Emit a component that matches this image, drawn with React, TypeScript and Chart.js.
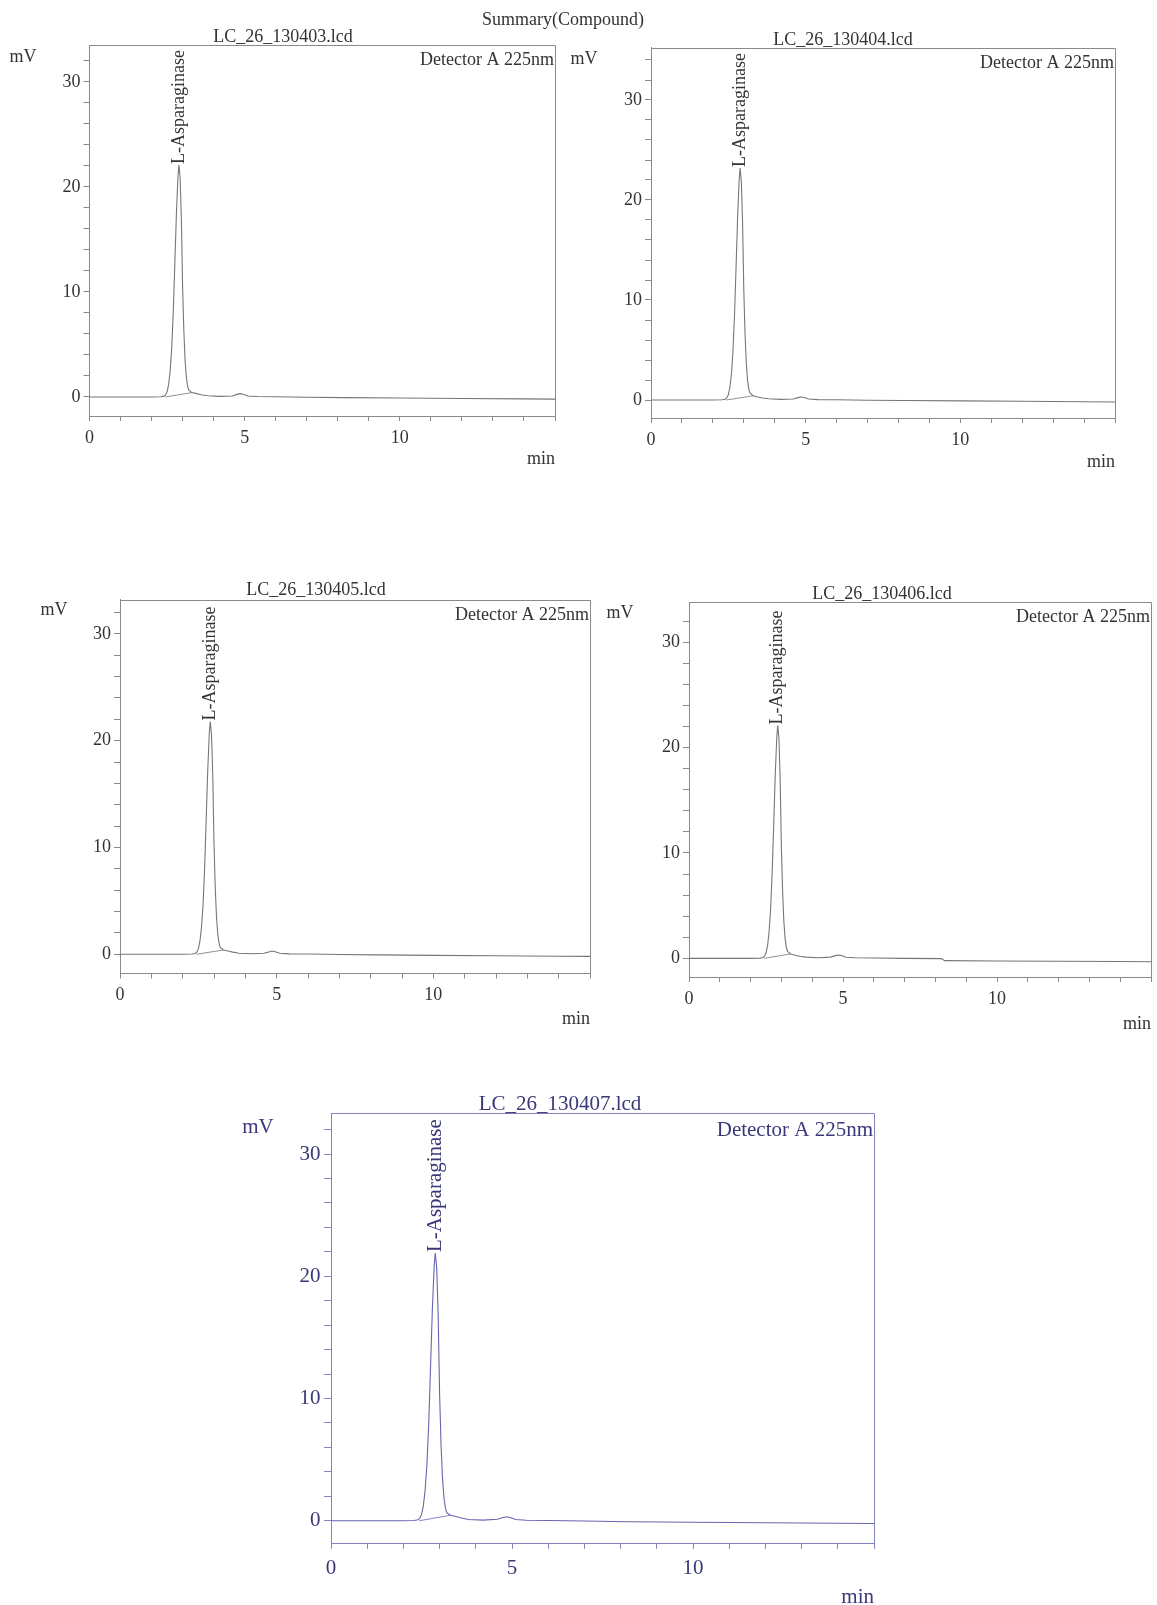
import React, { useEffect, useRef } from "react";
import { Chart, registerables } from "chart.js";

Chart.register(...registerables);

// ---------------- data ----------------
const SUMMARY_TITLE = "Summary(Compound)";
const FILE_NAMES = [
  "LC_26_130403.lcd",
  "LC_26_130404.lcd",
  "LC_26_130405.lcd",
  "LC_26_130406.lcd",
  "LC_26_130407.lcd",
];
const DETECTOR_LABEL = "Detector A 225nm";
const PEAK_NAME = "L-Asparaginase";
const Y_UNIT = "mV";
const X_UNIT = "min";

// retention time (min)
const TIME_MIN = [
  0, 1, 2, 2.3, 2.4, 2.45, 2.5, 2.55, 2.6, 2.65, 2.7, 2.75, 2.8, 2.85, 2.88,
  2.92, 2.96, 3.0, 3.04, 3.08, 3.12, 3.16, 3.2, 3.3, 3.45, 3.6, 3.8, 4.2, 4.6,
  4.75, 4.85, 4.95, 5.1, 5.4, 6, 7, 8.2, 8.3, 10, 12, 14, 15,
];

// detector signal (mV)
const SIGNAL_130403 = [
  0, 0, 0, 0.02, 0.08, 0.2, 0.5, 1.2, 2.5, 4.7, 8.1, 12.7, 17.4, 21.0, 22.1,
  20.9, 17.0, 10.5, 6.3, 3.5, 1.9, 1.05, 0.65, 0.42, 0.32, 0.22, 0.12, 0.06, 0.1,
  0.25, 0.32, 0.26, 0.1, 0.04, 0.02, -0.02, -0.06, -0.06, -0.1, -0.14, -0.18, -0.2,
];
const SIGNAL_130404 = [
  0, 0, 0, 0.02, 0.08, 0.2, 0.52, 1.25, 2.6, 4.9, 8.5, 13.3, 18.3, 22.0, 23.2,
  21.9, 17.8, 11.0, 6.6, 3.7, 2.0, 1.1, 0.7, 0.42, 0.3, 0.2, 0.12, 0.06, 0.1,
  0.24, 0.3, 0.25, 0.1, 0.04, 0.02, -0.02, -0.05, -0.05, -0.09, -0.13, -0.17, -0.2,
];
const SIGNAL_130405 = [
  0, 0, 0, 0.02, 0.08, 0.2, 0.5, 1.2, 2.5, 4.6, 8.0, 12.5, 17.2, 20.7, 21.8,
  20.6, 16.8, 10.4, 6.2, 3.5, 1.9, 1.05, 0.65, 0.4, 0.3, 0.2, 0.1, 0.05, 0.1,
  0.22, 0.3, 0.24, 0.1, 0.04, 0.02, -0.02, -0.06, -0.06, -0.1, -0.14, -0.18, -0.2,
];
const SIGNAL_130406 = [
  0, 0, 0, 0.02, 0.08, 0.2, 0.5, 1.2, 2.5, 4.7, 8.1, 12.7, 17.4, 21.0, 22.1,
  20.9, 17.0, 10.5, 6.3, 3.5, 1.9, 1.05, 0.65, 0.42, 0.3, 0.2, 0.12, 0.06, 0.12,
  0.26, 0.32, 0.26, 0.1, 0.05, 0.03, 0.0, -0.03, -0.22, -0.25, -0.28, -0.3, -0.32,
];
const SIGNAL_130407 = [
  0, 0, 0, 0.02, 0.08, 0.2, 0.5, 1.2, 2.5, 4.6, 8.0, 12.6, 17.3, 20.8, 21.9,
  20.7, 16.9, 10.4, 6.2, 3.5, 1.9, 1.05, 0.65, 0.45, 0.35, 0.22, 0.1, 0.05, 0.12,
  0.27, 0.33, 0.27, 0.1, 0.04, 0.02, -0.02, -0.08, -0.08, -0.12, -0.16, -0.2, -0.22,
];

// integration baseline drawn under the peak (start / end)
const PEAK_BASE_TIME = [2.44, 3.3];
const PEAK_BASE_130403 = [0.0, 0.42];
const PEAK_BASE_130404 = [0.0, 0.42];
const PEAK_BASE_130405 = [0.0, 0.4];
const PEAK_BASE_130406 = [0.0, 0.42];
const PEAK_BASE_130407 = [0.0, 0.45];

// axes
const X_TICKS = [0, 1, 2, 3, 4, 5, 6, 7, 8, 9, 10, 11, 12, 13, 14, 15];
const X_TICK_LABELS = [0, 5, 10];
const Y_TICKS = [0, 2, 4, 6, 8, 10, 12, 14, 16, 18, 20, 22, 24, 26, 28, 30, 32, 34];
const Y_TICK_LABELS = [0, 10, 20, 30];

// ---------------- layout / style ----------------
const PAGE_W = 1157;
const PAGE_H = 1605;
const FONT_FAMILY = '"Liberation Serif", "Times New Roman", serif';

const GRAY = { text: "#333333", axis: "#8a8a8a", trace: "#767676" };
const BLUE = { text: "#3a3878", axis: "#8383c0", trace: "#6666b0" };

type PanelCfg = {
  file: string;
  signal: number[];
  base: number[];
  area: { left: number; right: number; top: number; bottom: number };
  yMin: number;
  yMax: number;
  k: number;
  titleX: number;
  titleY: number;
  unitX: number;
  unitY: number;
  minY: number;
  colors: { text: string; axis: string; trace: string };
  summary?: boolean;
};

const PANELS: PanelCfg[] = [
  {
    file: FILE_NAMES[0], signal: SIGNAL_130403, base: PEAK_BASE_130403,
    area: { left: 89.5, right: 555, top: 45, bottom: 416 },
    yMin: -1.81, yMax: 33.52, k: 1,
    titleX: 283, titleY: 42, unitX: 23, unitY: 57, minY: 464,
    colors: GRAY, summary: true,
  },
  {
    file: FILE_NAMES[1], signal: SIGNAL_130404, base: PEAK_BASE_130404,
    area: { left: 651, right: 1115, top: 47.5, bottom: 418 },
    yMin: -1.8, yMax: 35.25, k: 1,
    titleX: 843, titleY: 45, unitX: 584, unitY: 59, minY: 467,
    colors: GRAY,
  },
  {
    file: FILE_NAMES[2], signal: SIGNAL_130405, base: PEAK_BASE_130405,
    area: { left: 120, right: 590, top: 599.5, bottom: 973.5 },
    yMin: -1.8, yMax: 33.22, k: 1,
    titleX: 316, titleY: 595, unitX: 54, unitY: 610, minY: 1024,
    colors: GRAY,
  },
  {
    file: FILE_NAMES[3], signal: SIGNAL_130406, base: PEAK_BASE_130406,
    area: { left: 689, right: 1155, top: 602, bottom: 977 },
    yMin: -1.77, yMax: 33.81, k: 1,
    titleX: 882, titleY: 599, unitX: 620, unitY: 613, minY: 1029,
    colors: GRAY,
  },
  {
    file: FILE_NAMES[4], signal: SIGNAL_130407, base: PEAK_BASE_130407,
    area: { left: 331, right: 874, top: 1113, bottom: 1543 },
    yMin: -1.82, yMax: 33.36, k: 1.165,
    titleX: 560, titleY: 1110, unitX: 258, unitY: 1127, minY: 1603,
    colors: BLUE,
  },
];

const Y_AXIS_W = 70;
const X_AXIS_H = 40;

function makeTextPlugin(cfg: PanelCfg) {
  return {
    id: "panelText",
    afterDraw(chart: any) {
      const { ctx, chartArea: a, scales } = chart;
      const k = cfg.k;
      const fs = Math.round(18 * k);
      ctx.save();
      // frame (top and right)
      ctx.strokeStyle = cfg.colors.axis;
      ctx.lineWidth = 1;
      ctx.beginPath();
      ctx.moveTo(a.left, Math.round(a.top) + 0.5);
      ctx.lineTo(Math.round(a.right) + 0.5, Math.round(a.top) + 0.5);
      ctx.lineTo(Math.round(a.right) + 0.5, a.bottom);
      ctx.stroke();

      ctx.fillStyle = cfg.colors.text;
      ctx.font = `${fs}px ${FONT_FAMILY}`;

      // file name title
      ctx.textAlign = "center";
      ctx.textBaseline = "alphabetic";
      ctx.fillText(cfg.file, cfg.titleX, cfg.titleY);

      // detector label
      ctx.textAlign = "right";
      ctx.fillText(DETECTOR_LABEL, a.right - 1, a.top + 20 * k);

      // x unit
      ctx.fillText(X_UNIT, a.right, cfg.minY);

      // y unit
      ctx.textAlign = "center";
      ctx.textBaseline = "middle";
      ctx.fillText(Y_UNIT, cfg.unitX, cfg.unitY);

      // summary heading
      if (cfg.summary) {
        ctx.textBaseline = "alphabetic";
        ctx.fillText(SUMMARY_TITLE, 563, 25);
      }

      // peak label at apex
      let iMax = 0;
      cfg.signal.forEach((v, i) => {
        if (v > cfg.signal[iMax]) iMax = i;
      });
      const px = scales.x.getPixelForValue(TIME_MIN[iMax]);
      const py = scales.y.getPixelForValue(cfg.signal[iMax]);
      ctx.translate(px, py - 1);
      ctx.rotate(-Math.PI / 2);
      ctx.textAlign = "left";
      ctx.textBaseline = "middle";
      ctx.fillText(PEAK_NAME, 0, 0);
      ctx.restore();
    },
  };
}

function Panel({ cfg }: { cfg: PanelCfg }) {
  const ref = useRef<HTMLCanvasElement | null>(null);
  useEffect(() => {
    if (!ref.current) return;
    const k = cfg.k;
    const fs = Math.round(18 * k);
    const a = cfg.area;
    const chart = new Chart(ref.current, {
      type: "line",
      data: {
        datasets: [
          {
            data: TIME_MIN.map((t, i) => ({ x: t, y: cfg.signal[i] })),
            borderColor: cfg.colors.trace,
            borderWidth: 1.1,
            pointRadius: 0,
            tension: 0,
            fill: false,
          },
          {
            data: PEAK_BASE_TIME.map((t, i) => ({ x: t, y: cfg.base[i] })),
            borderColor: cfg.colors.trace,
            borderWidth: 0.8,
            pointRadius: 0,
            tension: 0,
            fill: false,
          },
        ],
      },
      options: {
        responsive: false,
        maintainAspectRatio: false,
        animation: false,
        devicePixelRatio: 1,
        events: [],
        layout: {
          autoPadding: false,
          padding: {
            left: a.left - Y_AXIS_W,
            right: PAGE_W - a.right,
            top: a.top,
            bottom: PAGE_H - a.bottom - X_AXIS_H,
          },
        },
        plugins: {
          legend: { display: false },
          tooltip: { enabled: false },
          title: { display: false },
        },
        scales: {
          x: {
            type: "linear",
            min: 0,
            max: 15,
            afterBuildTicks: (s: any) => {
              s.ticks = X_TICKS.map((v) => ({ value: v }));
            },
            afterFit: (s: any) => {
              s.height = X_AXIS_H;
            },
            ticks: {
              autoSkip: false,
              maxRotation: 0,
              minRotation: 0,
              padding: 6 * k,
              color: cfg.colors.text,
              font: { family: FONT_FAMILY, size: fs },
              callback: (v: any) => (X_TICK_LABELS.includes(Number(v)) ? String(v) : ""),
            },
            grid: {
              drawOnChartArea: false,
              drawTicks: true,
              tickLength: 5 * k,
              tickColor: cfg.colors.axis,
              tickWidth: 1,
            },
            border: { display: true, color: cfg.colors.axis, width: 1 },
          },
          y: {
            type: "linear",
            min: cfg.yMin,
            max: cfg.yMax,
            afterBuildTicks: (s: any) => {
              s.ticks = Y_TICKS.filter((v) => v <= cfg.yMax).map((v) => ({ value: v }));
            },
            afterFit: (s: any) => {
              s.width = Y_AXIS_W;
            },
            ticks: {
              autoSkip: false,
              padding: 3 * k,
              color: cfg.colors.text,
              font: { family: FONT_FAMILY, size: fs },
              callback: (v: any) => (Y_TICK_LABELS.includes(Number(v)) ? String(v) : ""),
            },
            grid: {
              drawOnChartArea: false,
              drawTicks: true,
              tickLength: 6 * k,
              tickColor: cfg.colors.axis,
              tickWidth: 1,
            },
            border: { display: true, color: cfg.colors.axis, width: 1 },
          },
        },
      },
      plugins: [makeTextPlugin(cfg)],
    } as any);
    return () => chart.destroy();
  }, [cfg]);
  return (
    <canvas
      ref={ref}
      width={PAGE_W}
      height={PAGE_H}
      style={{
        position: "absolute",
        left: 0,
        top: 0,
        width: PAGE_W,
        height: PAGE_H,
        pointerEvents: "none",
      }}
    />
  );
}

export default function App() {
  return (
    <div
      style={{
        position: "absolute",
        left: 0,
        top: 0,
        width: PAGE_W,
        height: PAGE_H,
        background: "#ffffff",
        overflow: "hidden",
      }}
    >
      {PANELS.map((p) => (
        <Panel key={p.file} cfg={p} />
      ))}
    </div>
  );
}
